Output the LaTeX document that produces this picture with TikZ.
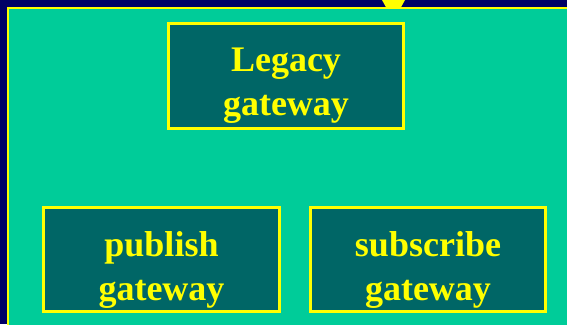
\documentclass[tikz,border=0pt]{standalone}
\usepackage{fontspec}
\setmainfont{Liberation Serif}
\definecolor{navy}{HTML}{000066}
\definecolor{panelteal}{HTML}{00CC99}
\definecolor{boxteal}{HTML}{006666}
\definecolor{gwyellow}{HTML}{FFFF00}
\tikzset{
  gwbox/.style={draw=gwyellow,line width=3pt,fill=boxteal,inner sep=0pt},
  gwtext/.style={text=gwyellow,align=center,inner sep=0pt,yshift=-10pt,
    font=\fontsize{36}{44}\selectfont\bfseries}
}
\begin{document}
\begin{tikzpicture}[x=1pt,y=-1pt]
				\useasboundingbox[fill=navy] (0,0) rectangle (567,324);
				\clip (0,0) rectangle (567,324);
				\fill[gwyellow] (382,0) -- (405,0) -- (400,9) -- (387,9) -- cycle;
				\draw[gwyellow,line width=2pt,fill=panelteal] (8,8) rectangle (620,360);
				\node[gwbox,minimum width=235pt,minimum height=105pt,
					label={[gwtext]center:Legacy\\gateway}] (legacy) at (286,76) {};
				\node[gwbox,minimum width=236pt,minimum height=104pt,
					label={[gwtext]center:publish\\gateway}] (publish) at (161.5,259.5) {};
				\node[gwbox,minimum width=235pt,minimum height=104pt,
					label={[gwtext]center:subscribe\\gateway}] (subscribe) at (428,259.5) {};
			\end{tikzpicture}
\end{document}
